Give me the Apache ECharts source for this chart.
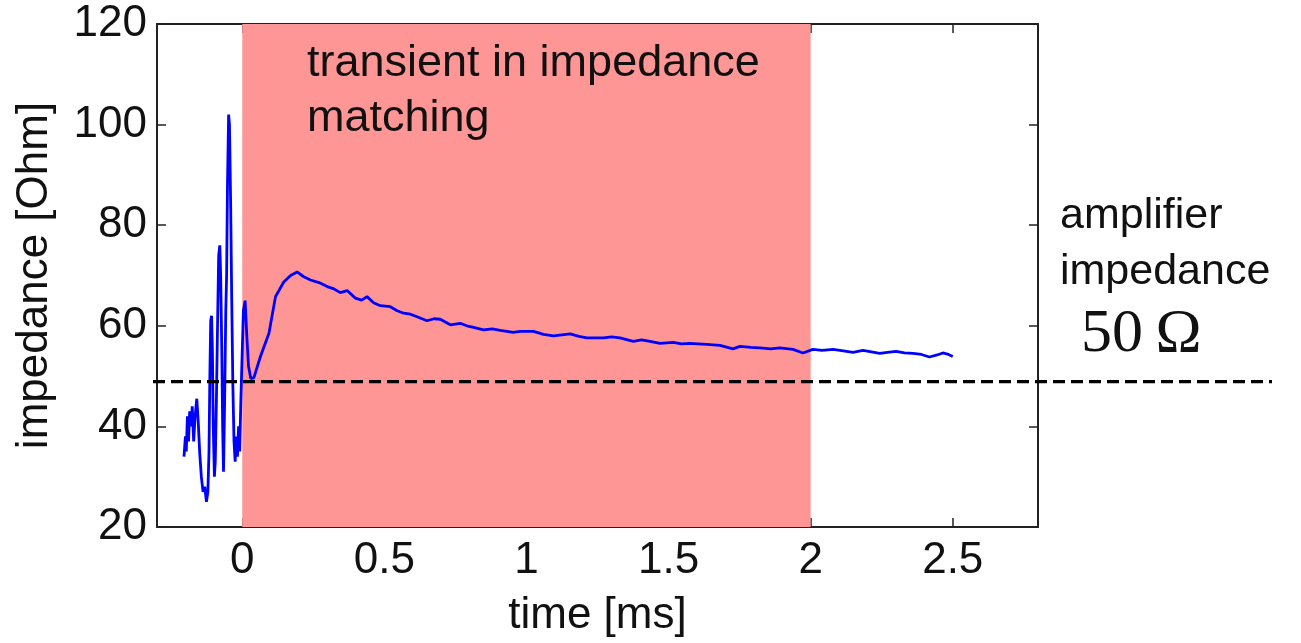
<!DOCTYPE html>
<html lang="en">
<head>
  <meta charset="UTF-8" />
  <title>impedance transient</title>
  <script src="https://cdn.jsdelivr.net/npm/echarts@6.0.0/dist/echarts.min.js"></script>
  <style>
    html, body { margin: 0; padding: 0; background: #fff; }
    #chart { width: 1301px; height: 643px; }
  </style>
</head>
<body>
  <div id="chart"></div>
  <script>
    // measured impedance trace (time in ms, impedance in Ohm)
    const timeMs = [
      -0.205, -0.200, -0.197, -0.193, -0.189, -0.185, -0.180, -0.176, -0.171, -0.166,
      -0.160, -0.155, -0.150, -0.144, -0.138, -0.132, -0.126, -0.121, -0.117, -0.114,
      -0.111, -0.108, -0.105, -0.102, -0.098, -0.095, -0.091, -0.087, -0.083, -0.079,
      -0.076, -0.072, -0.069, -0.066, -0.062, -0.058, -0.055, -0.052, -0.048, -0.045,
      -0.041, -0.037, -0.033, -0.029, -0.025, -0.021, -0.017, -0.013, -0.009, -0.005,
      0.000, 0.004, 0.010, 0.016, 0.022, 0.030, 0.036, 0.041, 0.064, 0.094,
      0.117, 0.146, 0.170, 0.193, 0.215, 0.240, 0.270, 0.299, 0.320, 0.345,
      0.369, 0.398, 0.420, 0.439, 0.462, 0.486, 0.521, 0.545, 0.568, 0.592,
      0.615, 0.650, 0.675, 0.697, 0.732, 0.767, 0.790, 0.814, 0.849, 0.880,
      0.908, 0.954, 0.978, 1.025, 1.060, 1.095, 1.154, 1.185, 1.212, 1.271,
      1.300, 1.329, 1.376, 1.405, 1.435, 1.470, 1.517, 1.545, 1.575, 1.634,
      1.681, 1.727, 1.751, 1.790, 1.821, 1.860, 1.891, 1.938, 1.973, 2.008,
      2.040, 2.079, 2.115, 2.149, 2.184, 2.243, 2.270, 2.301, 2.330, 2.360,
      2.390, 2.418, 2.445, 2.465, 2.485, 2.500
    ];
    const impedance = [
      34, 38, 35, 42, 37, 43, 40, 44, 37, 42,
      45.5, 41, 35, 30, 27, 28, 25, 27, 35, 50,
      61, 62, 55, 40, 30, 33, 45, 60, 74, 76,
      70, 55, 40, 31, 45, 63, 70, 88, 102, 100,
      85, 65, 48, 37, 33, 38, 34, 40, 35, 45,
      55, 63, 65, 58, 52, 49.5, 49.6, 49.7, 53.9, 58.5,
      65.8, 68.7, 70.0, 70.7, 69.8, 69.1, 68.6, 67.8, 67.4, 66.6,
      67.0, 65.5, 65.1, 65.8, 64.6, 64.0, 63.8, 63.0, 62.5, 62.3,
      61.8, 61.0, 61.4, 61.3, 60.2, 60.5, 60.0, 59.7, 59.2, 59.4,
      59.1, 58.7, 58.9, 58.9, 58.3, 58.0, 58.4, 57.9, 57.6, 57.6,
      57.8, 57.6, 56.9, 57.2, 56.9, 56.5, 56.7, 56.4, 56.5, 56.3,
      56.1, 55.4, 55.9, 55.7, 55.6, 55.4, 55.6, 55.3, 54.6, 55.3,
      55.1, 55.3, 55.0, 54.7, 55.1, 54.5, 54.7, 54.9, 54.6, 54.5,
      54.3, 53.8, 54.2, 54.6, 54.3, 53.9
    ];
    const xTicks = [0, 0.5, 1, 1.5, 2, 2.5];
    const refLevel = 50;
    const transientSpan = [0, 2];

    const chart = echarts.init(document.getElementById('chart'));
    const font = "'Liberation Sans', Arial, sans-serif";
    const axisLine = { onZero: false, lineStyle: { color: '#222', width: 2 } };
    const tick = { inside: true, length: 9, lineStyle: { color: '#222', width: 1.5 } };

    const option = {
      animation: false,
      title: [
        {
          text: 'transient in impedance\nmatching',
          left: 302, top: 31,
          textStyle: { fontFamily: font, fontSize: 45, fontWeight: 'normal', color: '#111', lineHeight: 55 }
        },
        {
          text: 'amplifier\nimpedance',
          left: 1055, top: 183,
          textStyle: { fontFamily: font, fontSize: 43, fontWeight: 'normal', color: '#111', lineHeight: 56 }
        },
        {
          text: '50\u2009\u03A9',
          left: 1076, top: 299,
          textStyle: { fontFamily: "'Liberation Serif', 'DejaVu Serif', serif", fontSize: 62, fontWeight: 'normal', color: '#111', lineHeight: 62 }
        }
      ],
      grid: [
        { left: 157, right: 263, top: 24, bottom: 108 },
        { left: 153, right: 29, top: 24, bottom: 108 }
      ],
      xAxis: [
        {
          type: 'value', gridIndex: 0, min: -0.3, max: 2.8, position: 'bottom',
          name: 'time [ms]', nameLocation: 'middle', nameGap: 67,
          nameTextStyle: { fontFamily: font, fontSize: 44, color: '#111' },
          axisLine: axisLine,
          axisTick: Object.assign({ customValues: xTicks }, tick),
          axisLabel: { customValues: xTicks, fontFamily: font, fontSize: 44, color: '#111', margin: 12 },
          splitLine: { show: false }
        },
        {
          type: 'value', gridIndex: 0, min: -0.3, max: 2.8, position: 'top',
          axisLine: axisLine,
          axisTick: Object.assign({ customValues: xTicks }, tick),
          axisLabel: { show: false },
          splitLine: { show: false }
        },
        { type: 'value', gridIndex: 1, min: 0, max: 1, show: false }
      ],
      yAxis: [
        {
          type: 'value', gridIndex: 0, min: 20, max: 120, interval: 20, position: 'left',
          name: 'impedance [Ohm]', nameLocation: 'middle', nameGap: 100,
          nameTextStyle: { fontFamily: font, fontSize: 44, color: '#111' },
          axisLine: axisLine,
          axisTick: tick,
          axisLabel: { fontFamily: font, fontSize: 44, color: '#111', margin: 10 },
          splitLine: { show: false }
        },
        {
          type: 'value', gridIndex: 0, min: 20, max: 120, interval: 20, position: 'right',
          axisLine: axisLine,
          axisTick: tick,
          axisLabel: { show: false },
          splitLine: { show: false }
        },
        { type: 'value', gridIndex: 1, min: 20, max: 120, show: false }
      ],
      series: [
        {
          // shaded transient window
          type: 'line', xAxisIndex: 0, yAxisIndex: 0, data: [], z: 1,
          markArea: {
            silent: true,
            itemStyle: { color: '#ff9696' },
            data: [[{ xAxis: transientSpan[0] }, { xAxis: transientSpan[1] }]]
          }
        },
        {
          type: 'line', xAxisIndex: 0, yAxisIndex: 0, z: 3,
          data: timeMs.map((t, i) => [t, impedance[i]]),
          showSymbol: false,
          lineStyle: { color: '#0000ff', width: 2.8 }
        },
        {
          // 50 Ohm reference, extends past the axes box
          type: 'line', xAxisIndex: 2, yAxisIndex: 2, z: 5,
          data: [[0, refLevel], [1, refLevel]],
          showSymbol: false,
          lineStyle: { color: '#000', width: 3.2, type: [12, 6] }
        }
      ]
    };

    chart.setOption(option);
  </script>
</body>
</html>
